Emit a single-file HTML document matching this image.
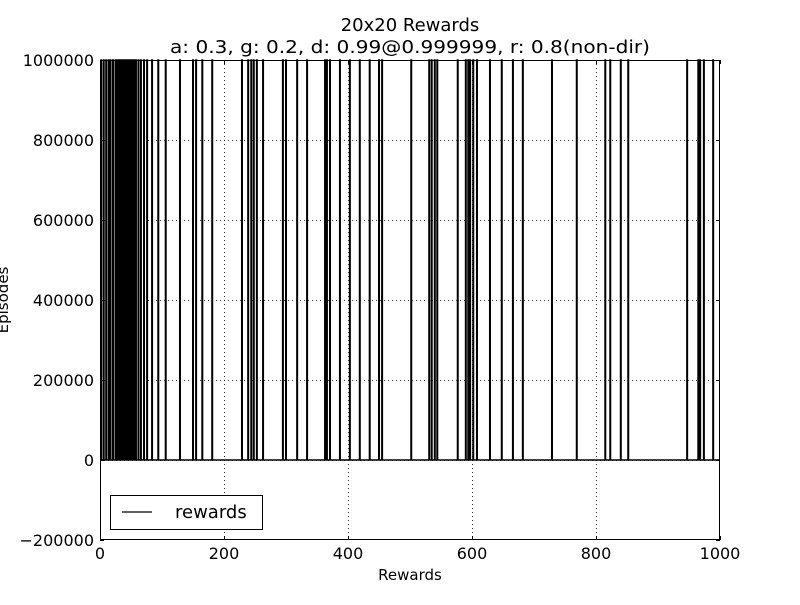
<!DOCTYPE html>
<html><head><meta charset="utf-8"><style>
body{margin:0;background:#fff;}
svg text{font-family:"DejaVu Sans","Liberation Sans",sans-serif;}
</style></head><body>
<svg id="chart" width="800" height="600">
<rect width="800" height="600" fill="#fff"/>
<text x="410" y="31" font-size="18" text-anchor="middle">20x20 Rewards</text>
<text x="410" y="53" font-size="18" text-anchor="middle" textLength="480" lengthAdjust="spacingAndGlyphs">a: 0.3, g: 0.2, d: 0.99@0.999999, r: 0.8(non-dir)</text>
<g id="grid"></g><g id="series"></g><g id="axes"></g>
<text x="410" y="580" font-size="15" text-anchor="middle">Rewards</text>
<text transform="translate(8,300) rotate(-90)" font-size="15" text-anchor="middle">Episodes</text>
<g>
<rect x="110.5" y="495.5" width="152" height="34" fill="#fff" stroke="#000"/>
<line x1="122" y1="512" x2="152" y2="512" stroke="#000" stroke-width="1.2"/>
<text x="175" y="518" font-size="18">rewards</text>
</g>
</svg>
<script>
const spikeEpisodes=[2,6,10,14,17,21,25,28,31,34,37,40,43,46,49,52,55,58,62,66,71,76,84,94,106,129,150,155,165,181,229,239,244,248,253,263,295,300,318,334,363,366,371,387,403,419,435,450,455,502,531,535,540,544,577,590,594,597,602,608,629,648,666,682,729,769,815,823,840,852,947,965,968,974,989];
const spikeValue=1000000;
const xTicks=[0,200,400,600,800,1000];
const yTicks=[-200000,0,200000,400000,600000,800000,1000000];
const L=100,R=720,T=60,B=540;
const xs=v=>L+(v-0)/1000*(R-L);
const ys=v=>B-(v+200000)/1200000*(B-T);
const NS="http://www.w3.org/2000/svg";
const g=document.getElementById('grid'),s=document.getElementById('series'),a=document.getElementById('axes');
function mk(tag,at,parent){const e=document.createElementNS(NS,tag);for(const k in at)e.setAttribute(k,at[k]);parent.appendChild(e);return e;}
xTicks.forEach(t=>{const x=Math.round(xs(t))+0.5;
 if(t>0&&t<1000){const l=mk('line',{x1:x,x2:x,y1:T,y2:B,stroke:'#000','stroke-dasharray':'1,3','stroke-width':0.8},g);
 
 }
 mk('line',{x1:x,x2:x,y1:B,y2:B-4,stroke:'#000'},a);mk('line',{x1:x,x2:x,y1:T,y2:T+4,stroke:'#000'},a);
 const tx=mk('text',{x:xs(t),y:B+19,'font-size':16,'text-anchor':'middle'},a);tx.textContent=t;
 
 });
yTicks.forEach(t=>{const y=Math.round(ys(t))+0.5;
 if(t>-200000&&t<1000000){const l=mk('line',{x1:L,x2:R,y1:y,y2:y,stroke:'#000','stroke-dasharray':'1,3','stroke-width':0.8},g);
 
 }
 mk('line',{x1:L,x2:L+4,y1:y,y2:y,stroke:'#000'},a);mk('line',{x1:R,x2:R-4,y1:y,y2:y,stroke:'#000'},a);
 const tx=mk('text',{x:L-6,y:ys(t)+6,'font-size':16,'text-anchor':'end'},a);tx.textContent=(t<0?'\u2212'+(-t):t);
 
 });
const fr=mk('rect',{x:L+0.5,y:T+0.5,width:R-L-1,height:B-T-1,fill:'none',stroke:'#000'},a);


let d='M'+xs(0)+','+ys(0);
spikeEpisodes.forEach(e=>{d+=' L'+xs(e-0.5)+','+ys(0)+' L'+xs(e-0.5)+','+ys(spikeValue)+' L'+xs(e+0.5)+','+ys(spikeValue)+' L'+xs(e+0.5)+','+ys(0);});
d+=' L'+xs(1000)+','+ys(0);
const p=mk('path',{d:d,fill:'none',stroke:'#000','stroke-width':1.4},s);


</script>
</body></html>
